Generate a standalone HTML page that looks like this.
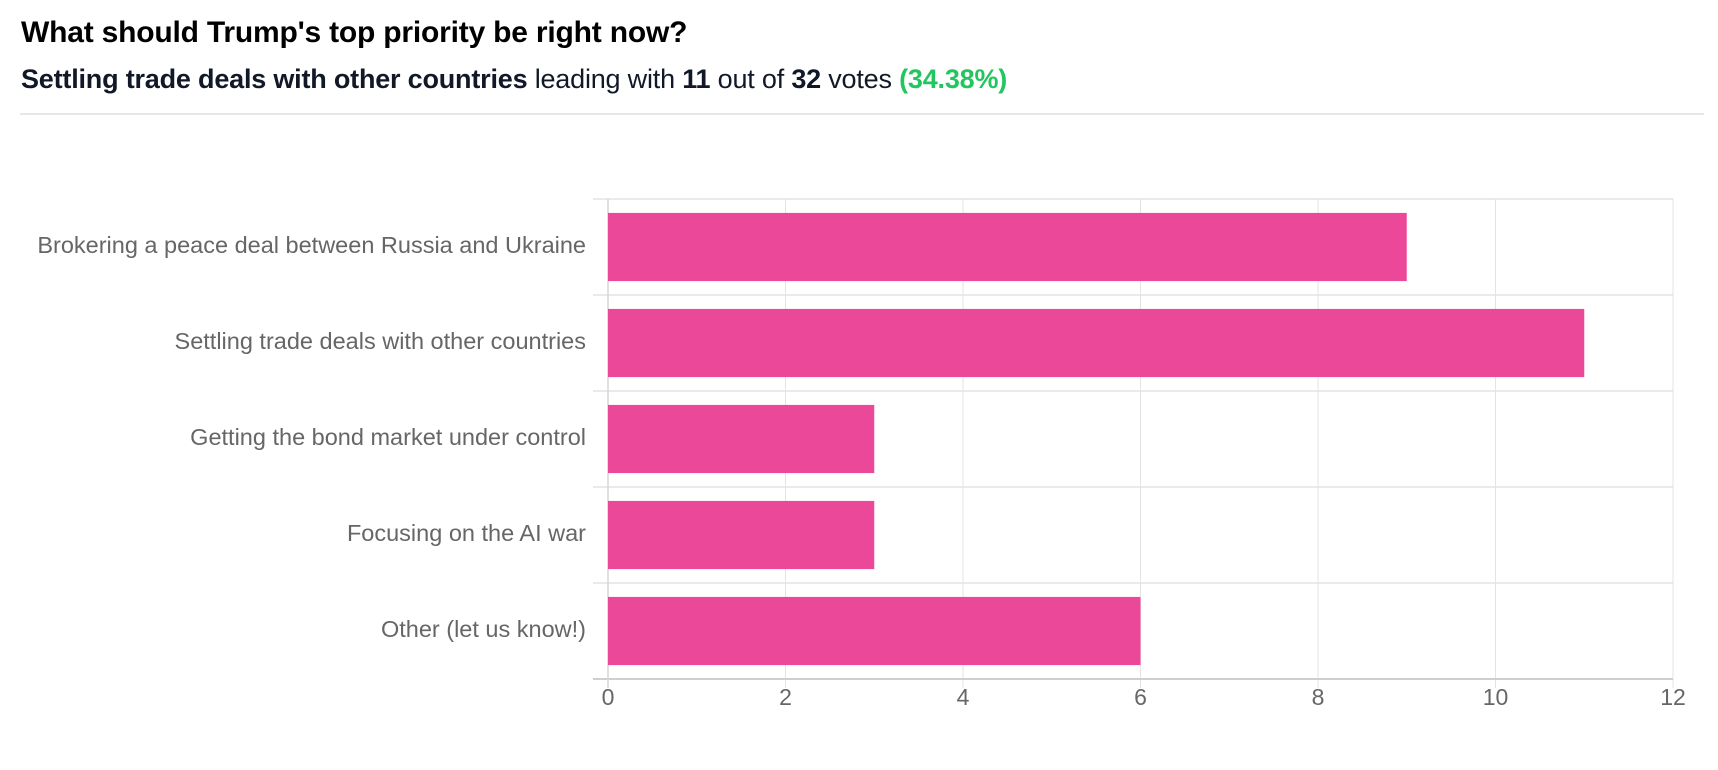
<!DOCTYPE html>
<html><head><meta charset="utf-8"><style>
body{margin:0;background:#fff;font-family:"Liberation Sans",Arial,sans-serif;}
#wrap{position:relative;width:1718px;height:770px;overflow:hidden;}
h1{position:absolute;left:21px;top:16px;margin:0;font-size:30px;font-weight:bold;color:#000;white-space:nowrap;letter-spacing:-0.2px;}
#sub{position:absolute;left:21px;top:64px;margin:0;font-size:27px;color:#111827;white-space:nowrap;letter-spacing:-0.2px;}
#sub b{font-weight:bold}
#sub .pct{color:#22c55e;font-weight:bold}
#divider{position:absolute;left:20px;top:113px;width:1684px;height:2px;background:#e5e7eb;}
svg{position:absolute;left:0;top:0}
</style></head><body>
<div id="wrap">
<h1>What should Trump's top priority be right now?</h1>
<div id="sub"><b>Settling trade deals with other countries</b> leading with <b>11</b> out of <b>32</b> votes <span class="pct">(34.38%)</span></div>
<div id="divider"></div>
<svg id="chart" width="1718" height="770"></svg>
</div>
<script>
const categories=["Brokering a peace deal between Russia and Ukraine","Settling trade deals with other countries","Getting the bond market under control","Focusing on the AI war","Other (let us know!)"];
const votes=[9,11,3,3,6];
const xTicks=[0,2,4,6,8,10,12];
const svg=document.getElementById('chart');
const NS='http://www.w3.org/2000/svg';
const L=608,R=1673,T=199,B=679,XMAX=12;
const x=v=>L+(v/XMAX)*(R-L);
const band=(B-T)/categories.length;
const y=i=>T+i*band;
function mk(t,a){const e=document.createElementNS(NS,t);for(const k in a)e.setAttribute(k,a[k]);svg.appendChild(e);return e;}
xTicks.forEach(t=>{
 const g=mk('line',{x1:x(t),x2:x(t),y1:T,y2:B+9,stroke:'#e3e3e3','stroke-width':1});
 
 
 const tx=mk('text',{x:x(t),y:B+20,'text-anchor':'middle','dominant-baseline':'middle','font-size':23,fill:'#666','font-family':'Liberation Sans, Arial, sans-serif'});
 tx.textContent=t;
 
 
});
for(let i=0;i<=categories.length;i++){
 const g=mk('line',{x1:L-15,x2:R,y1:y(i),y2:y(i),stroke:i===categories.length?'#cfcfcf':'#e3e3e3','stroke-width':i===categories.length?2:1.5});
 
 
}
const ax=mk('line',{x1:L,x2:L,y1:T,y2:B+9,stroke:'#d6d6d6','stroke-width':1.5});


categories.forEach((c,i)=>{
 const pad=band*0.145;
 const r=mk('rect',{x:x(0),y:y(i)+pad,width:x(votes[i])-x(0),height:band-2*pad,fill:'#EC4899'});
 
 
 const tx=mk('text',{x:L-22,y:y(i)+band/2,'text-anchor':'end','dominant-baseline':'middle','font-size':23.5,fill:'#666','font-family':'Liberation Sans, Arial, sans-serif'});
 tx.textContent=c;
 
 
});
</script>
</body></html>
